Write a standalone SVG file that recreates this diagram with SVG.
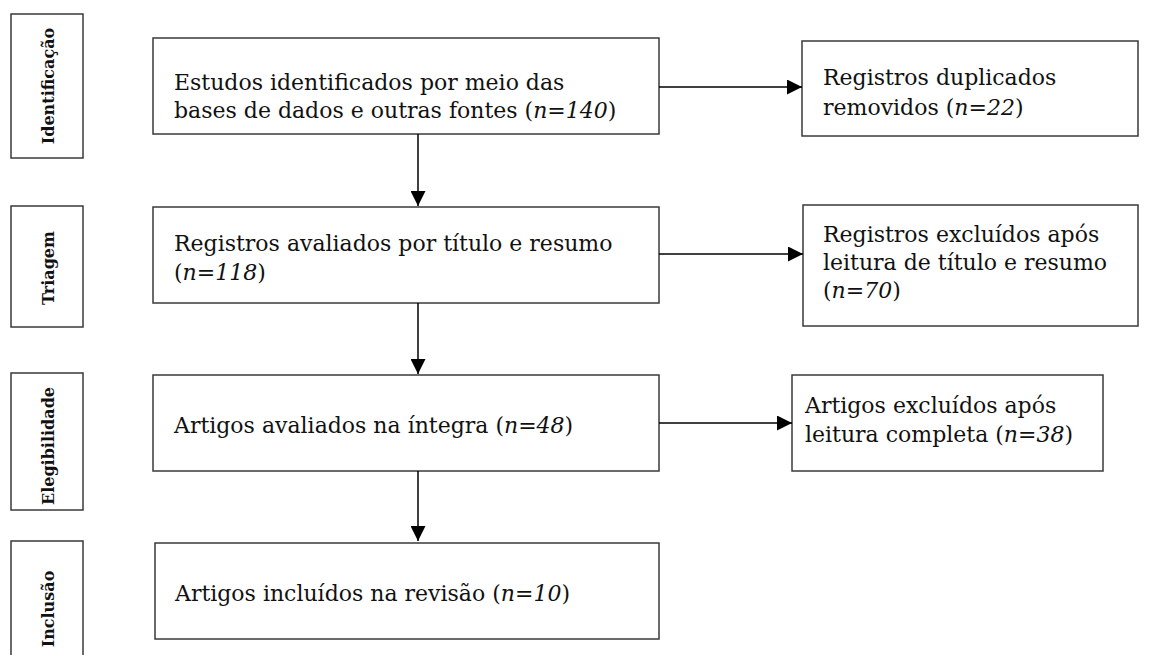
<svg xmlns="http://www.w3.org/2000/svg" width="1151" height="655" viewBox="0 0 1151 655">
<defs>
<marker id="ah" viewBox="0 0 10 10" refX="10" refY="5" markerWidth="15" markerHeight="15" markerUnits="userSpaceOnUse" orient="auto">
<path d="M0,0 L10,5 L0,10 Z" fill="#000"/>
</marker>
<style>
.box{fill:#fff;stroke:#3a3a3a;stroke-width:1.5}
.lbl{font-family:"DejaVu Serif","Liberation Serif",serif;font-weight:bold;font-size:16px;fill:#111;text-anchor:middle}
.t{font-family:"DejaVu Serif","Liberation Serif",serif;font-size:22px;fill:#111}
.i{font-style:italic}
.c{stroke:#000;stroke-width:1.5;fill:none}
</style>
</defs>
<rect width="1151" height="655" fill="#fff"/>

<g id="label-identificacao">
<rect class="box" x="11" y="14" width="72" height="144"/>
<text class="lbl" transform="translate(54,86) rotate(-90)">Identificação</text>
</g>
<g id="label-triagem">
<rect class="box" x="11" y="206" width="72" height="121"/>
<text class="lbl" transform="translate(54,268) rotate(-90)">Triagem</text>
</g>
<g id="label-elegibilidade">
<rect class="box" x="11" y="373" width="72" height="137"/>
<text class="lbl" transform="translate(54,446) rotate(-90)">Elegibilidade</text>
</g>
<g id="label-inclusao">
<rect class="box" x="11" y="541" width="72" height="130"/>
<text class="lbl" transform="translate(54,609) rotate(-90)">Inclusão</text>
</g>

<g id="n1">
<rect class="box" x="153" y="38" width="506" height="96"/>
<text class="t" x="174" y="90">Estudos identificados por meio das</text>
<text class="t" x="174" y="118">bases de dados e outras fontes (<tspan class="i">n=140</tspan>)</text>
</g>
<g id="n2">
<rect class="box" x="153" y="207" width="506" height="96"/>
<text class="t" x="174" y="251">Registros avaliados por título e resumo</text>
<text class="t" x="174" y="280">(<tspan class="i">n=118</tspan>)</text>
</g>
<g id="n3">
<rect class="box" x="153" y="375" width="506" height="96"/>
<text class="t" x="174" y="433">Artigos avaliados na íntegra (<tspan class="i">n=48</tspan>)</text>
</g>
<g id="n4">
<rect class="box" x="155" y="543" width="504" height="96"/>
<text class="t" x="175" y="601">Artigos incluídos na revisão (<tspan class="i">n=10</tspan>)</text>
</g>
<g id="r1">
<rect class="box" x="802" y="41" width="336" height="95"/>
<text class="t" x="823" y="85">Registros duplicados</text>
<text class="t" x="823" y="115">removidos (<tspan class="i">n=22</tspan>)</text>
</g>
<g id="r2">
<rect class="box" x="803" y="205" width="335" height="121"/>
<text class="t" x="823" y="242">Registros excluídos após</text>
<text class="t" x="823" y="270">leitura de título e resumo</text>
<text class="t" x="823" y="298">(<tspan class="i">n=70</tspan>)</text>
</g>
<g id="r3">
<rect class="box" x="792" y="375" width="311" height="96"/>
<text class="t" x="805" y="413">Artigos excluídos após</text>
<text class="t" x="805" y="442">leitura completa (<tspan class="i">n=38</tspan>)</text>
</g>

<g id="connectors">
<line class="c" x1="418" y1="134" x2="418" y2="206" marker-end="url(#ah)"/>
<line class="c" x1="418" y1="303" x2="418" y2="374" marker-end="url(#ah)"/>
<line class="c" x1="418" y1="471" x2="418" y2="541" marker-end="url(#ah)"/>
<line class="c" x1="659" y1="87" x2="802" y2="87" marker-end="url(#ah)"/>
<line class="c" x1="659" y1="254" x2="803" y2="254" marker-end="url(#ah)"/>
<line class="c" x1="659" y1="423" x2="792" y2="423" marker-end="url(#ah)"/>
</g>
</svg>
